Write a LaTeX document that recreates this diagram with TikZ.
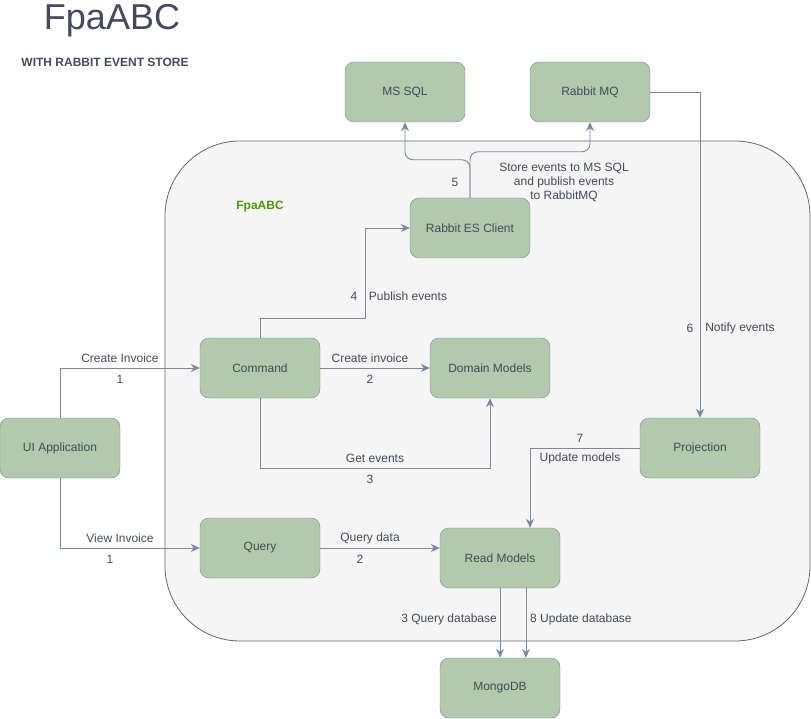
\documentclass[tikz,border=0pt]{standalone}
\usepackage{fontspec}
\setmainfont{Liberation Sans}
\usetikzlibrary{arrows.meta}

\definecolor{boxfill}{HTML}{B2C9AB}
\definecolor{boxline}{HTML}{788AA3}
\definecolor{txt}{HTML}{46495D}
\definecolor{areafill}{HTML}{F5F5F5}
\definecolor{arealine}{HTML}{666666}
\definecolor{areatxt}{HTML}{4D9900}

\tikzset{
  block/.style={rectangle,rounded corners=9pt,draw=boxline,fill=boxfill,text=txt,
    minimum width=120pt,minimum height=60pt,inner sep=0pt,font=\fontsize{12}{14}\selectfont},
  link/.style={draw=boxline,line width=0.9pt,-{Stealth[length=9pt,width=8pt]}},
  lbl/.style={text=txt,font=\fontsize{12}{14}\selectfont,inner sep=1pt}
}

\begin{document}
\begin{tikzpicture}[x=1pt,y=-1pt]

      \useasboundingbox (0,0) rectangle (811,719);

      % container
      \draw[fill=areafill,draw=arealine,line width=0.8pt,rounded corners=75pt] (165,141) rectangle (810,641);

      \node[text=txt,font=\fontsize{36}{40}\selectfont] (title) at (112,21) {FpaABC};
      \node[text=txt,font=\fontsize{12}{14}\selectfont\bfseries] (subtitle) at (105,62) {WITH RABBIT EVENT STORE};
      \node[text=areatxt,font=\fontsize{12}{14}\selectfont\bfseries] (area) at (260,207) {FpaABC};

      \begin{scope}[every node/.style={block}]
        \node (sql)   at (405,92)  {MS SQL};
        \node (rmq)   at (590,92)  {Rabbit MQ};
        \node (res)   at (470,228) {Rabbit ES Client};
        \node (cmd)   at (260,368) {Command};
        \node (dom)   at (490,368) {Domain Models};
        \node (ui)    at (60,448)  {UI Application};
        \node (proj)  at (700,448) {Projection};
        \node (qry)   at (260,548) {Query};
        \node (rm)    at (500,558) {Read Models};
        \node (mongo) at (500,688) {MongoDB};
      \end{scope}

      \coordinate (c4) at (365,318);

      \begin{scope}[every path/.style={link}]
        \draw (ui.north) |- (cmd.west);
        \draw (ui.south) |- (qry.west);
        \draw (cmd.east) -- (dom.west);
        \draw (cmd.south) -- ++(0,70) -| (dom.south);
        \draw (cmd.north) |- (c4) |- (res.west);
        \draw[rounded corners=8pt] (res.north) -- ++(0,-38) -| (sql.south);
        \draw[rounded corners=8pt] (res.north) -- ++(0,-46) -| (rmq.south);
        \draw (rmq.east) -| (proj.north);
        \draw (proj.west) -| ([xshift=30pt]rm.north);
        \draw (qry.east) -- (qry.east -| rm.west);
        \draw (rm.south) -- (mongo.north);
        \draw ([xshift=26pt]rm.south) -- ([xshift=26pt]mongo.north);
      \end{scope}

      \begin{scope}[every node/.style={lbl}]
        \node (l1a) at (120,358) {Create Invoice};
        \node (l1b) at (120,379) {1};
        \node (l2a) at (120,538) {View Invoice};
        \node (l2b) at (110,559) {1};
        \node (l3a) at (370,358) {Create invoice};
        \node (l3b) at (370,379) {2};
        \node (l4a) at (375,458) {Get events};
        \node (l4b) at (370,479) {3};
        \node (l5a) at (354,296) {4};
        \node (l5b) at (408,296) {Publish events};
        \node (l6a) at (455,182) {5};
        \node[align=center,font=\fontsize{12}{14}\selectfont] (l6b) at (564,182) {Store events to MS SQL\\and publish events\\to RabbitMQ};
        \node (l7a) at (690,328) {6};
        \node (l7b) at (740,328) {Notify events};
        \node (l8a) at (580,438) {7};
        \node (l8b) at (580,458) {Update models};
        \node (l9a) at (370,538) {Query data};
        \node (l9b) at (360,559) {2};
        \node[anchor=east] (l10) at (498,619) {3 Query database};
        \node[anchor=west] (l11) at (529,619) {8 Update database};
      \end{scope}

    \end{tikzpicture}
\end{document}
